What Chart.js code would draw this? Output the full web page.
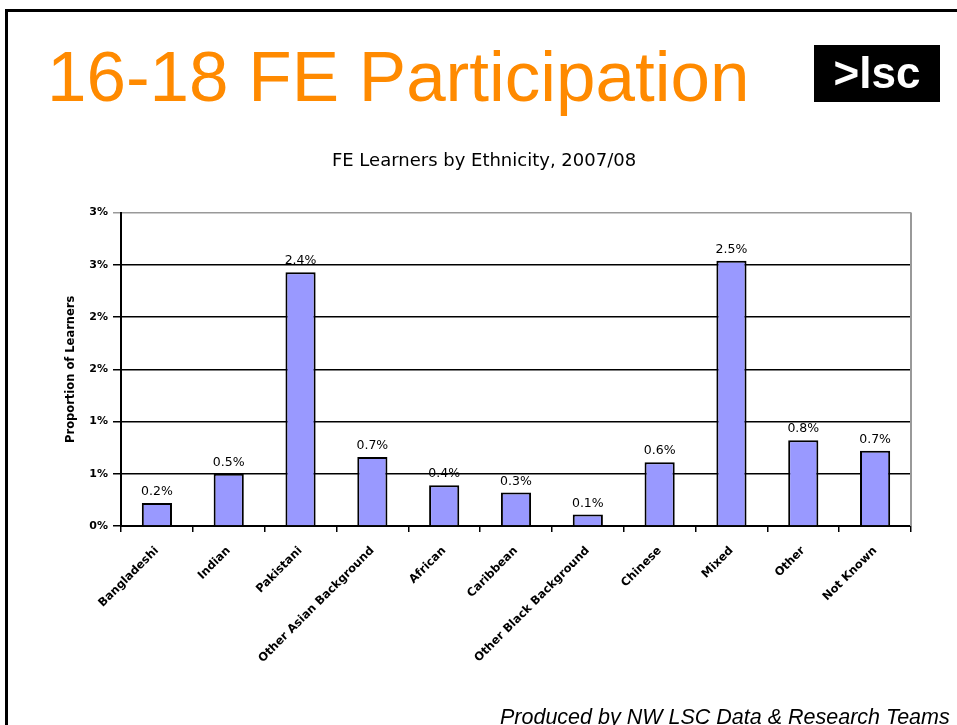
<!DOCTYPE html>
<html>
<head>
<meta charset="utf-8">
<script src="https://cdn.jsdelivr.net/npm/chart.js@4"></script>
<style>
  html, body { margin: 0; padding: 0; background: #fff; overflow: hidden; }
  #wrap { position: relative; width: 957px; height: 725px; }
  #myChart { position: absolute; left: 0; top: 0; }
  .frame { position: absolute; left: 5px; top: 9px; right: -10px; bottom: -10px;
           border-top: 3px solid #000; border-left: 3px solid #000; }
  .head { position: absolute; left: 47px; top: 36px; line-height: 72px;
          font: 71px "Liberation Sans", Arial, sans-serif; color: #ff8a00; white-space: nowrap; }
  .logo { position: absolute; left: 814px; top: 45px; width: 126px; height: 57px; background: #000;
          color: #fff; font: bold 44px "Liberation Sans", Arial, sans-serif; line-height: 55px;
          text-align: center; }
  .foot { position: absolute; left: 500px; top: 705px; line-height: 21px; white-space: nowrap;
          font: italic 21.5px "Liberation Sans", Arial, sans-serif; color: #000; }
</style>
</head>
<body>
<div id="wrap">
  <canvas id="myChart" width="957" height="725"></canvas>
  <div class="frame"></div>
  <div class="head">16-18 FE Participation</div>
  <div class="logo">&gt;lsc</div>
  <div class="foot">Produced by NW LSC Data &amp; Research Teams</div>
</div>
<script>
// categories and values (percent of learners)
const ethnicities = ["Bangladeshi", "Indian", "Pakistani", "Other Asian Background", "African",
    "Caribbean", "Other Black Background", "Chinese", "Mixed", "Other", "Not Known"];
const proportions = [0.22, 0.5, 2.43, 0.66, 0.39, 0.32, 0.11, 0.61, 2.54, 0.82, 0.72];
const yTicks = [0, 0.5, 1, 1.5, 2, 2.5, 3];

const labelFont = "'DejaVu Sans', sans-serif";

// value labels above bars
const barLabels = {
    id: "barLabels",
    afterDatasetsDraw(chart) {
        const ctx = chart.ctx;
        const meta = chart.getDatasetMeta(0);
        ctx.save();
        ctx.font = "12.5px " + labelFont;
        ctx.fillStyle = "#000";
        ctx.textAlign = "center";
        ctx.textBaseline = "bottom";
        meta.data.forEach((bar, i) => {
            ctx.fillText(proportions[i].toFixed(1) + "%", bar.x, bar.y - 5);
        });
        ctx.restore();
    }
};

// grey right edge of the plot area
const plotEdge = {
    id: "plotEdge",
    afterDraw(chart) {
        const a = chart.chartArea;
        const ctx = chart.ctx;
        ctx.save();
        ctx.strokeStyle = "#999";
        ctx.lineWidth = 2;
        ctx.beginPath();
        ctx.moveTo(a.right, a.top);
        ctx.lineTo(a.right, a.bottom);
        ctx.stroke();
        ctx.restore();
    }
};

new Chart("myChart", {
    type: "bar",
    data: {
        labels: ethnicities,
        datasets: [{
            data: proportions,
            backgroundColor: "#9999ff",
            borderColor: "#000",
            borderWidth: 2,
            barPercentage: 0.42,
            categoryPercentage: 1
        }]
    },
    plugins: [barLabels, plotEdge],
    options: {
        responsive: false,
        animation: false,
        layout: { padding: { left: 57, right: 46, top: 0, bottom: 0 } },
        plugins: {
            legend: { display: false },
            tooltip: { enabled: false },
            title: {
                display: true,
                text: "FE Learners by Ethnicity, 2007/08",
                color: "#000",
                font: { family: labelFont, size: 18, weight: "normal" },
                padding: { top: 151, bottom: 40 }
            }
        },
        scales: {
            x: {
                afterFit(scale) { scale.height = 199; },
                grid: { drawOnChartArea: false, color: "#000", lineWidth: 1.5, tickLength: 6, offset: true },
                border: { color: "#000", width: 2 },
                ticks: {
                    color: "#000",
                    autoSkip: false,
                    maxRotation: 45,
                    minRotation: 45,
                    padding: 12,
                    font: { family: labelFont, size: 11.5, weight: "bold" }
                }
            },
            y: {
                min: 0,
                max: 3,
                afterFit(scale) { scale.width = 64; },
                afterBuildTicks(scale) { scale.ticks = yTicks.map(v => ({ value: v })); },
                grid: {
                    color: (c) => (c.tick && c.tick.value === 3 ? "#999" : "#000"),
                    lineWidth: 1.5,
                    tickLength: 8
                },
                border: { color: "#000", width: 2 },
                ticks: {
                    color: "#000",
                    padding: 5,
                    font: { family: labelFont, size: 11, weight: "bold" },
                    callback: (v) => Math.round(v).toFixed(0) + "%"
                },
                title: {
                    display: true,
                    text: "Proportion of Learners",
                    color: "#000",
                    padding: { top: 7, bottom: 0 },
                    font: { family: labelFont, size: 11.5, weight: "bold" }
                }
            }
        }
    }
});
</script>
</body>
</html>
